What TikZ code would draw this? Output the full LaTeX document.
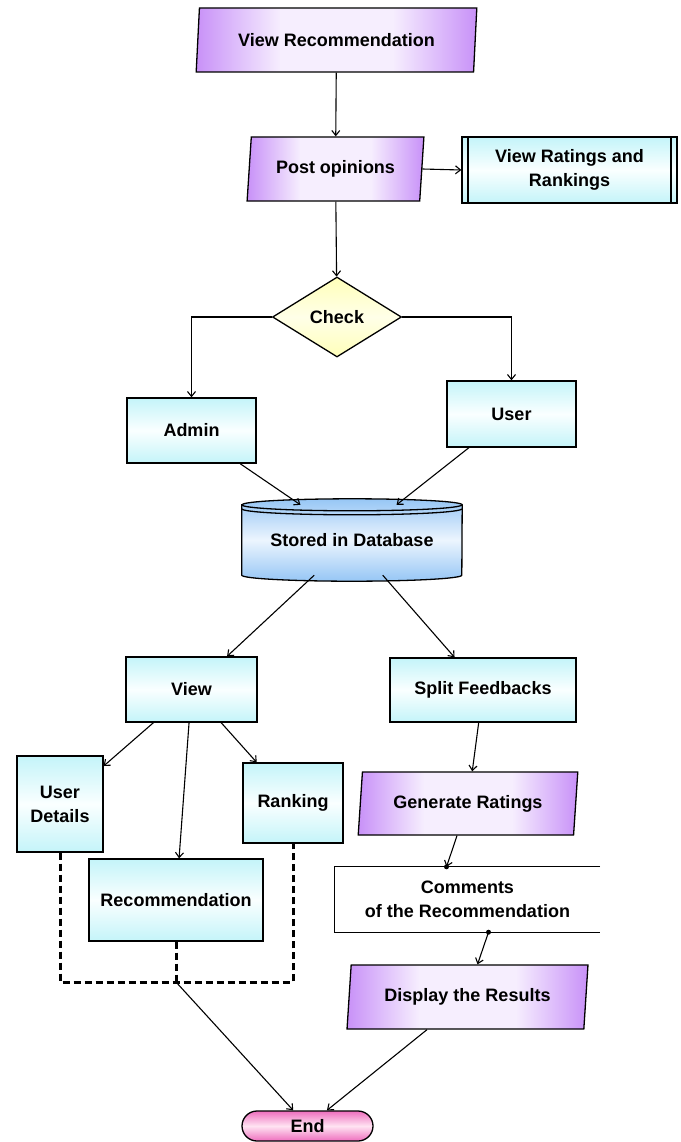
\documentclass[tikz,border=0pt]{standalone}
\usepackage{fontspec}
\setmainfont{Liberation Sans}
\usepackage{tikz}
\usetikzlibrary{arrows.meta, shapes.geometric, shapes.misc, backgrounds}

\definecolor{purpdk}{RGB}{200,145,248}
\definecolor{purplt}{RGB}{246,238,254}
\definecolor{cyandk}{RGB}{196,244,249}
\definecolor{cyanlt}{RGB}{250,255,255}
\definecolor{yelldk}{RGB}{255,255,185}
\definecolor{yelllt}{RGB}{255,255,232}
\definecolor{pinkdk}{RGB}{238,110,190}
\definecolor{pinklt}{RGB}{255,228,242}
\definecolor{bluedk}{RGB}{150,198,245}
\definecolor{bluelt}{RGB}{236,245,254}

\pgfdeclareverticalshading{purpshade}{100bp}{color(0bp)=(purpdk); color(25bp)=(purpdk);
  color(40bp)=(purplt); color(60bp)=(purplt); color(75bp)=(purpdk); color(100bp)=(purpdk)}

\begin{document}
\begin{tikzpicture}[x=1pt, y=-1pt, >={Straight Barb[length=5pt, width=8pt]},
    every node/.style={font=\fontsize{18}{24}\selectfont\bfseries, align=center, inner sep=0pt},
    procbox/.style={draw, line width=1.3pt, top color=cyandk, bottom color=cyandk, middle color=cyanlt},
    iobox/.style={draw, line width=1.3pt, trapezium, trapezium left angle=80, trapezium right angle=100,
      trapezium stretches=true, minimum height=64pt, shade, shading=purpshade, shading angle=90},
    predef/.style={procbox, path picture={
      \draw[line width=1.3pt] ([xshift=6pt]path picture bounding box.north west) -- ([xshift=6pt]path picture bounding box.south west);
      \draw[line width=1.3pt] ([xshift=-6pt]path picture bounding box.north east) -- ([xshift=-6pt]path picture bounding box.south east);}},
    decide/.style={draw, line width=1.3pt, diamond, aspect=1.6, minimum width=129pt, minimum height=80pt,
      top color=yelldk, bottom color=yelldk, middle color=yelllt},
    termbox/.style={draw, line width=1.3pt, rounded rectangle, minimum width=131pt, minimum height=30pt,
      top color=pinkdk, bottom color=pinkdk, middle color=pinklt},
    dbbody/.style={draw, line width=1.3pt, top color=bluedk, bottom color=bluedk, middle color=bluelt},
    flow/.style={draw, line width=1.1pt, ->},
    dashlink/.style={draw, line width=3pt, dash pattern=on 7pt off 4pt}]
  \useasboundingbox (0,0) rectangle (680,1142);

  \node[iobox, minimum width=281pt] (vrec) at (336.5,40) {View Recommendation};
  \node[iobox, minimum width=177pt] (post) at (335.5,169) {Post opinions};
  \node[predef, minimum width=215pt, minimum height=66pt] (vrr) at (569.5,170) {View Ratings and\\Rankings};
  \node[decide] (chk) at (337,317) {Check};
  \node[procbox, minimum width=129pt, minimum height=65pt] (adm) at (191.5,430.5) {Admin};
  \node[procbox, minimum width=129pt, minimum height=66pt] (usr) at (511.5,414) {User};
  \node[minimum width=220pt, minimum height=70pt] (db) at (352,540) {Stored in Database};
  \node[procbox, minimum width=131pt, minimum height=65pt] (view) at (191.5,689.5) {View};
  \node[procbox, minimum width=186pt, minimum height=64pt] (split) at (483,690) {Split Feedbacks};
  \node[procbox, minimum width=86pt, minimum height=96pt] (udet) at (60,804) {User\\Details};
  \node[procbox, minimum width=100pt, minimum height=80pt] (rank) at (293,803) {Ranking};
  \node[procbox, minimum width=174pt, minimum height=82pt] (recm) at (176,900) {Recommendation};
  \node[iobox, minimum width=220pt, minimum height=63pt] (gen) at (468,803.5) {Generate Ratings};
  \node[minimum width=265pt, minimum height=65pt] (cmt) at (467.5,899.5) {Comments\\of the Recommendation};
  \node[iobox, minimum width=241pt] (disp) at (467.5,997) {Display the Results};
  \node[termbox] (endn) at (307.5,1126) {End};

  % database drum behind its text
  \begin{scope}[on background layer]
    \draw[dbbody] (db.north west) -- (db.south west)
      arc[start angle=180, end angle=360, x radius=110pt, y radius=6pt]
      -- (db.north east)
      arc[start angle=0, end angle=180, x radius=110pt, y radius=6pt] -- cycle;
    \draw[line width=1.3pt] (db.north west) arc[start angle=180, end angle=360, x radius=110pt, y radius=6pt];
    \draw[line width=1.3pt] ([yshift=-4pt]db.north west) arc[start angle=180, end angle=360, x radius=110pt, y radius=6pt];
  \end{scope}

  % open comment box
  \draw[line width=1.3pt] (cmt.north east) -- (cmt.north west) -- (cmt.south west) -- (cmt.south east);

  \coordinate (c1) at ([xshift=-21pt]cmt.north);
  \coordinate (c2) at ([xshift=21pt]cmt.south);
  \coordinate (jn) at (176,982);

  \draw[flow] (vrec) -- (post);
  \draw[flow] (post.east) -- (vrr.west);
  \draw[flow] (post) -- (chk);
  \draw[flow] (chk.west) -| (adm.north);
  \draw[flow] (chk.east) -| (usr.north);
  \draw[flow] (adm) -- (db);
  \draw[flow] (usr) -- (db);
  \draw[flow] (db) -- (view);
  \draw[flow] (db) -- (split);
  \draw[flow] (view) -- (udet);
  \draw[flow] (view) -- (recm);
  \draw[flow] (view) -- (rank);
  \draw[flow] (split) -- (gen);
  \draw[flow] ([xshift=-11pt]gen.south) -- (c1);
  \draw[flow] (c2) -- ([xshift=10pt]disp.north);
  \fill (c1) circle[radius=2.5pt];
  \fill (c2) circle[radius=2.5pt];
  \draw[flow] (disp) -- (endn);

  \draw[dashlink] (udet.south) |- (jn) -| (rank.south);
  \draw[dashlink] (recm.south) -- (jn);
  \draw[flow] (jn) -- (endn);
\end{tikzpicture}
\end{document}
